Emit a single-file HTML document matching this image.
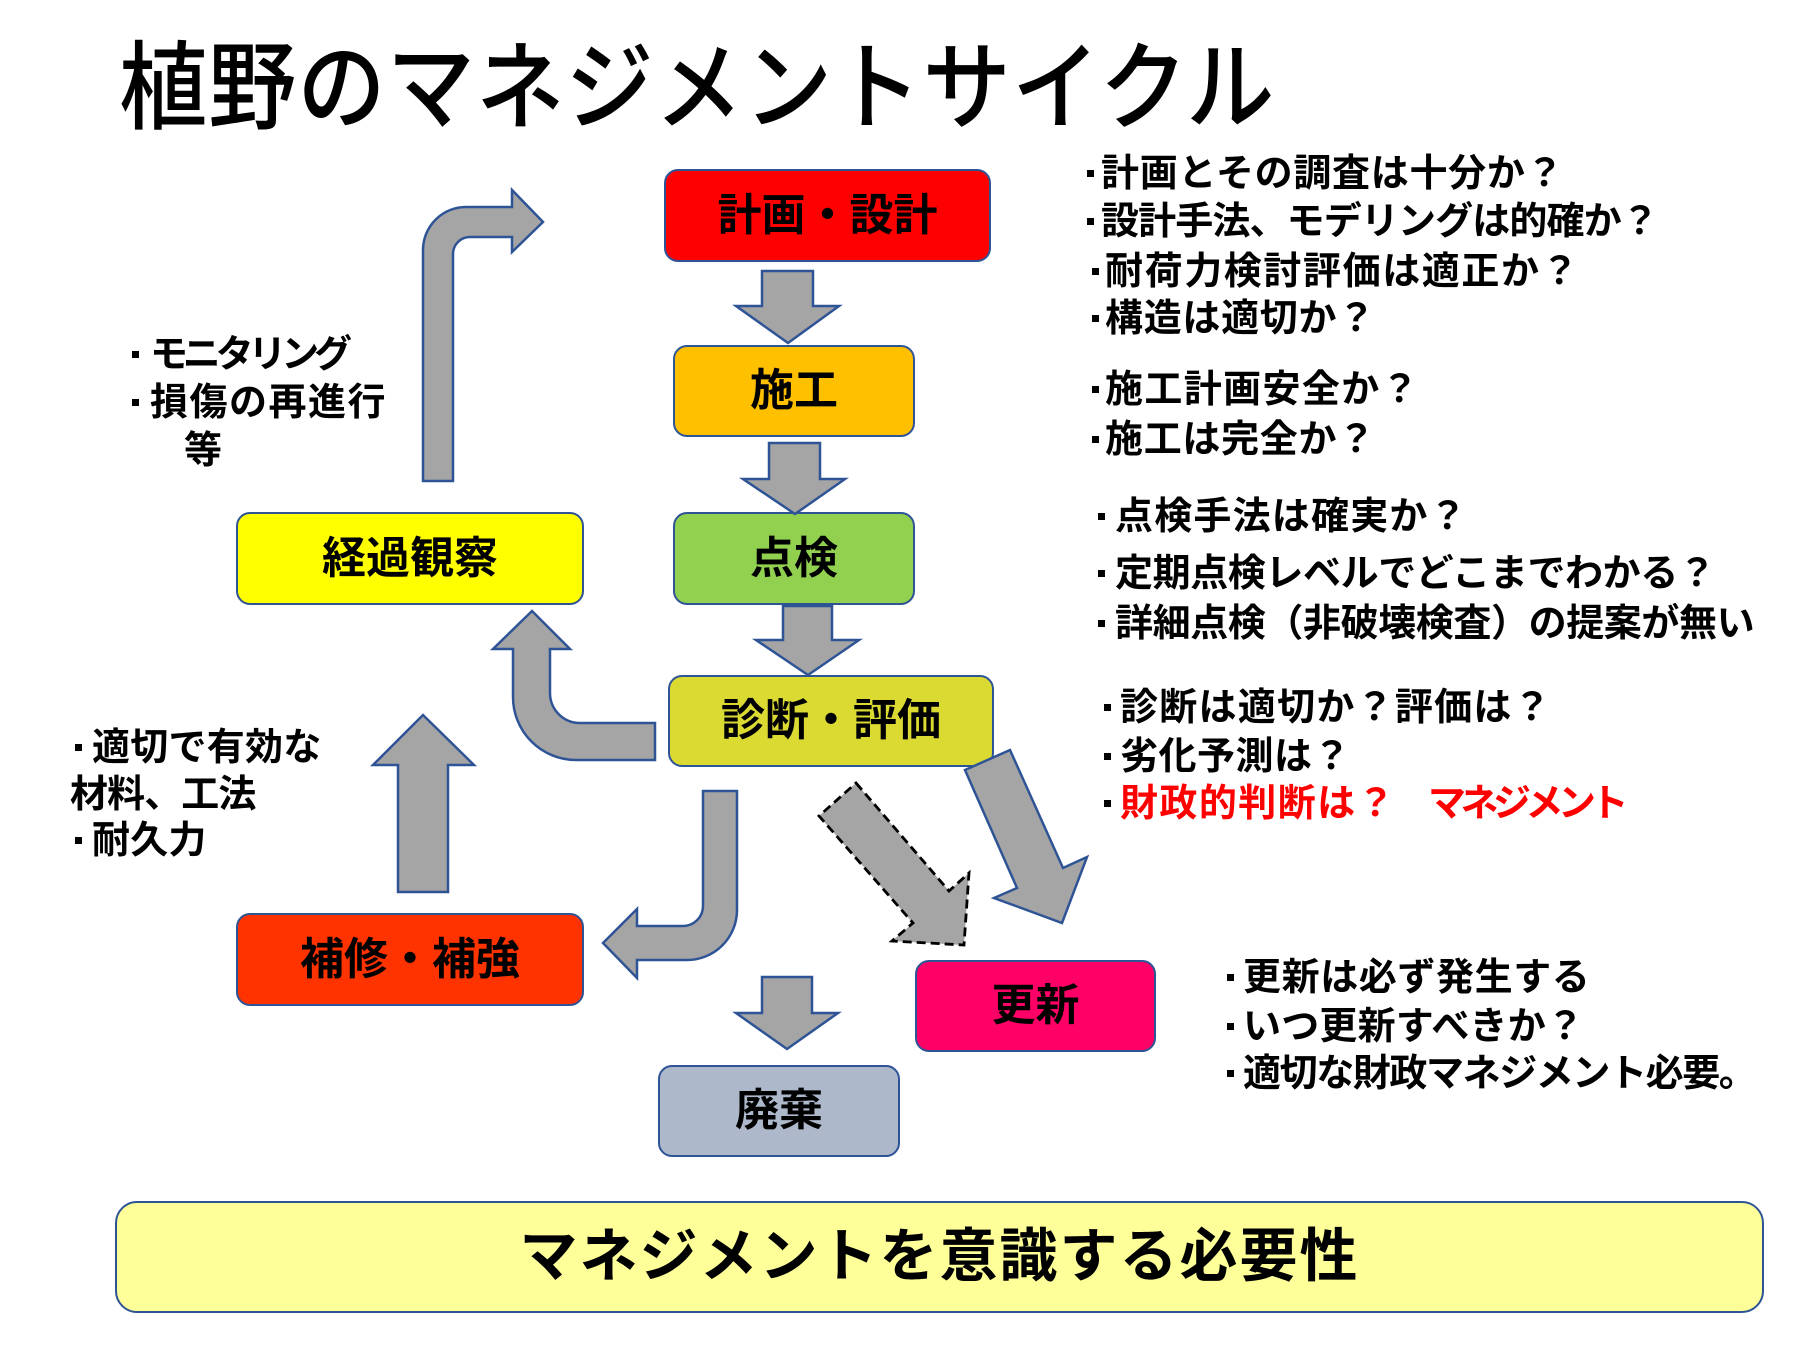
<!DOCTYPE html>
<html>
<head>
<meta charset="utf-8">
<style>
  html,body{margin:0;padding:0;}
  body{width:1800px;height:1350px;position:relative;background:#fff;overflow:hidden;
       font-family:"Liberation Sans","Noto Sans CJK JP",sans-serif;}
  .title{position:absolute;left:119px;top:44px;font-size:88px;line-height:88px;font-weight:500;
         letter-spacing:1.3px;white-space:nowrap;color:#000;transform:scaleY(1.1);transform-origin:0 41px;}
  .box{position:absolute;box-sizing:border-box;border:2.5px solid #2F5496;border-radius:14px;
       display:flex;align-items:center;justify-content:center;font-weight:bold;font-size:44px;
       line-height:44px;color:#000;white-space:nowrap;}
  .t{position:absolute;white-space:nowrap;font-weight:bold;font-size:38px;line-height:38px;color:#000;}
  .t.b::before{content:"";position:absolute;width:7px;height:7px;background:#000;top:15px;left:var(--b);}
  svg{position:absolute;left:0;top:0;}
  .ar{fill:#A5A5A5;stroke:#2F5496;stroke-width:2.5;stroke-linejoin:miter;}
</style>
</head>
<body>

<div class="title">植野のマネジメントサイクル</div>

<!-- Boxes -->
<div class="box" style="left:664px;top:169px;width:327px;height:93px;background:#FF0000;">計画・設計</div>
<div class="box" style="left:673px;top:345px;width:242px;height:92px;background:#FFC000;">施工</div>
<div class="box" style="left:673px;top:512px;width:242px;height:93px;background:#92D050;">点検</div>
<div class="box" style="left:236px;top:512px;width:348px;height:93px;background:#FFFF00;">経過観察</div>
<div class="box" style="left:668px;top:675px;width:326px;height:92px;background:#DADA33;">診断・評価</div>
<div class="box" style="left:236px;top:913px;width:348px;height:93px;background:#FF3300;">補修・補強</div>
<div class="box" style="left:915px;top:960px;width:241px;height:92px;background:#FF0066;">更新</div>
<div class="box" style="left:658px;top:1065px;width:242px;height:92px;background:#ADB9CA;">廃棄</div>
<div class="box" style="left:115px;top:1201px;width:1649px;height:112px;background:#FFFF99;border-radius:22px;font-size:58px;line-height:58px;letter-spacing:2px;">マネジメントを意識する必要性</div>

<!-- Arrows -->
<svg width="1800" height="1350" viewBox="0 0 1800 1350">
  <path class="ar" d="M762,271 H813 V306 H839 L788,343 L736,306 H762 Z"/>
  <path class="ar" d="M769,443 H820 V479 H845 L795,514 L743,479 H769 Z"/>
  <path class="ar" d="M783,606 H832 V640 H859 L808,675 L756,640 H783 Z"/>
  <path class="ar" d="M762,977 H812 V1013 H838 L787,1049 L736,1013 H762 Z"/>
  <path class="ar" d="M398,892 V765 H373 L423,715 L474,765 H448 V892 Z"/>
  <path class="ar" d="M423,481 V250 A43,43 0 0 1 466,207 H512 V190 L543,222 L512,252 V237 H470 A17,17 0 0 0 453,254 V481 Z"/>
  <path class="ar" d="M655,723 H580 A30,30 0 0 1 550,693 V649 H570 L532,611 L493,649 H513 V697 A63,63 0 0 0 576,760 H655 Z"/>
  <path class="ar" d="M703,791 H737 V910 A50,50 0 0 1 687,960 H637 V978 L603,943 L637,909 V926 H683 A20,20 0 0 0 703,906 Z"/>
  <path d="M856,783 L949,891 L969,873 L964,945 L892,941 L913,923 L819,816 Z" fill="#A5A5A5" stroke="#000" stroke-width="2.8" stroke-dasharray="9 5"/>
  <path class="ar" d="M965,770 L1010,750 L1063,868 L1087,857 L1062,923 L994,898 L1017,888 Z"/>
</svg>

<!-- Left texts -->
<div class="t b" style="left:150px;top:336px;letter-spacing:-5.2px;--b:-18px;">モニタリング</div>
<div class="t b" style="left:150px;top:384px;letter-spacing:1.5px;--b:-18px;">損傷の再進行</div>
<div class="t" style="left:184px;top:432px;">等</div>

<div class="t b" style="left:92px;top:729px;letter-spacing:0.25px;--b:-17px;">適切で有効な</div>
<div class="t" style="left:70px;top:776px;letter-spacing:-0.9px;">材料、工法</div>
<div class="t b" style="left:92px;top:822px;letter-spacing:0.2px;--b:-17px;">耐久力</div>

<!-- Right texts -->
<div class="t b" style="left:1101px;top:155px;letter-spacing:0.7px;--b:-14px;">計画とその調査は十分か？</div>
<div class="t b" style="left:1101px;top:203px;letter-spacing:-0.87px;--b:-14px;">設計手法、モデリングは的確か？</div>
<div class="t b" style="left:1105px;top:253px;letter-spacing:1.6px;--b:-13px;">耐荷力検討評価は適正か？</div>
<div class="t b" style="left:1105px;top:300px;letter-spacing:0.7px;--b:-13px;">構造は適切か？</div>

<div class="t b" style="left:1105px;top:371px;letter-spacing:1.37px;--b:-13px;">施工計画安全か？</div>
<div class="t b" style="left:1105px;top:421px;letter-spacing:0.7px;--b:-13px;">施工は完全か？</div>

<div class="t b" style="left:1115px;top:498px;letter-spacing:1.2px;--b:-17px;">点検手法は確実か？</div>
<div class="t b" style="left:1115px;top:555px;letter-spacing:-0.4px;--b:-17px;">定期点検レベルでどこまでわかる？</div>
<div class="t b" style="left:1115px;top:605px;letter-spacing:-0.4px;--b:-17px;">詳細点検（非破壊検査）の提案が無い</div>

<div class="t b" style="left:1120px;top:689px;letter-spacing:1.27px;--b:-16px;">診断は適切か？評価は？</div>
<div class="t b" style="left:1120px;top:738px;letter-spacing:0.5px;--b:-16px;">劣化予測は？</div>
<div class="t b" style="left:1120px;top:785px;letter-spacing:1.43px;--b:-16px;color:#FF0000;">財政的判断は？</div>
<div class="t" style="left:1428px;top:785px;letter-spacing:-5.5px;color:#FF0000;">マネジメント</div>

<div class="t b" style="left:1243px;top:959px;letter-spacing:0.6px;--b:-16px;">更新は必ず発生する</div>
<div class="t b" style="left:1243px;top:1008px;letter-spacing:0.2px;--b:-16px;">いつ更新すべきか？</div>
<div class="t b" style="left:1243px;top:1055px;letter-spacing:-1.4px;--b:-16px;">適切な財政マネジメント必要。</div>

</body>
</html>
